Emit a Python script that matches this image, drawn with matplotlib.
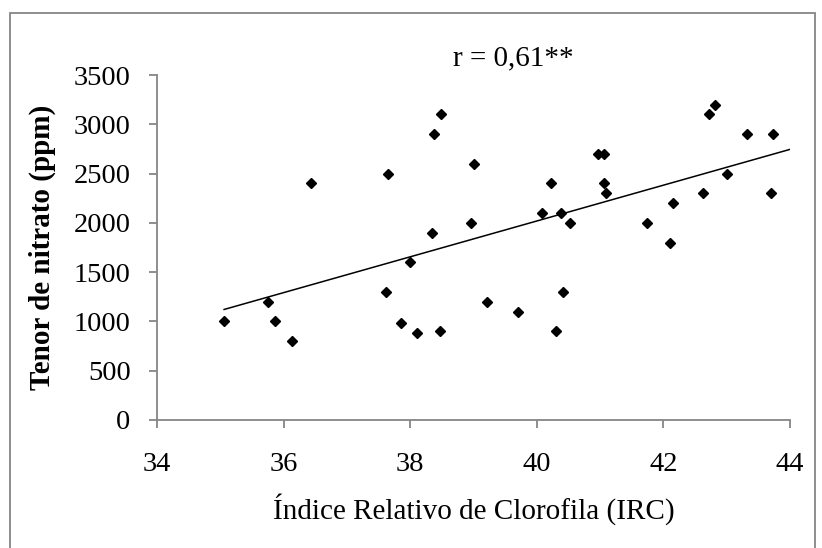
import numpy as np
import matplotlib
matplotlib.use("Agg")
import matplotlib.pyplot as plt
from matplotlib.patches import Rectangle

# IRC readings and nitrate content
irc = [35.06, 35.75, 35.86, 36.13, 36.43, 37.62, 37.65, 37.85, 38.00, 38.10,
       38.35, 38.38, 38.47, 38.48, 38.96, 39.01, 39.22, 39.70, 40.08, 40.23,
       40.31, 40.38, 40.41, 40.52, 40.96, 41.06, 41.06, 41.09, 41.74, 42.10,
       42.16, 42.63, 42.72, 42.81, 43.00, 43.32, 43.70, 43.73]
nitrato = [1000, 1200, 1000, 800, 2400, 1300, 2500, 980, 1600, 880,
           1900, 2900, 900, 3100, 2000, 2600, 1200, 1100, 2100, 2400,
           900, 2100, 1300, 2000, 2700, 2700, 2400, 2300, 2000, 1800,
           2200, 2300, 3100, 3200, 2500, 2900, 2300, 2900]

x_ticks = [34, 36, 38, 40, 42, 44]
y_ticks = [0, 500, 1000, 1500, 2000, 2500, 3000, 3500]

x = np.array(irc)
y = np.array(nitrato)

# linear fit
slope, intercept = np.polyfit(x, y, 1)
xl = np.array([x.min(), 44])
yl = intercept + slope * xl

serif = ["Liberation Serif", "DejaVu Serif"]
grey = "#868686"

fig = plt.figure(figsize=(8.22, 5.48), dpi=100)
ax = fig.add_axes([0.191, 0.2336, 0.770, 0.6294])

ax.plot(x, y, "D", color="black", markersize=5, linestyle="none")
ax.plot(xl, yl, color="black", linewidth=1.1)

ax.set_xlim(34, 44)
ax.set_ylim(0, 3500)
ax.set_xticks(x_ticks)
ax.set_yticks(y_ticks)
ax.set_xticklabels([str(t) for t in x_ticks], family=serif, fontsize=20.5)
ax.set_yticklabels([str(t) for t in y_ticks], family=serif, fontsize=20.5)

for s in ["top", "right"]:
    ax.spines[s].set_visible(False)
for s in ["left", "bottom"]:
    ax.spines[s].set_color(grey)
    ax.spines[s].set_linewidth(1.3)
ax.tick_params(direction="out", length=6, width=1.3, color=grey)
ax.tick_params(axis="y", pad=13)
ax.tick_params(axis="x", pad=17)

ax.set_xlabel("Índice Relativo de Clorofila (IRC)", family=serif, fontsize=21, labelpad=12)
ax.set_ylabel("Tenor de nitrato (ppm)", family=serif, fontsize=21, fontweight="bold", labelpad=13)

fig.text(0.625, 0.894, "r = 0,61**", family=serif, fontsize=21, ha="center", va="center")

# outer chart border
fig.patches.append(Rectangle((0.012, -0.05), 0.980, 1.026, transform=fig.transFigure,
                             fill=False, edgecolor=grey, linewidth=1.3))

fig.savefig("out.png", dpi=100)
